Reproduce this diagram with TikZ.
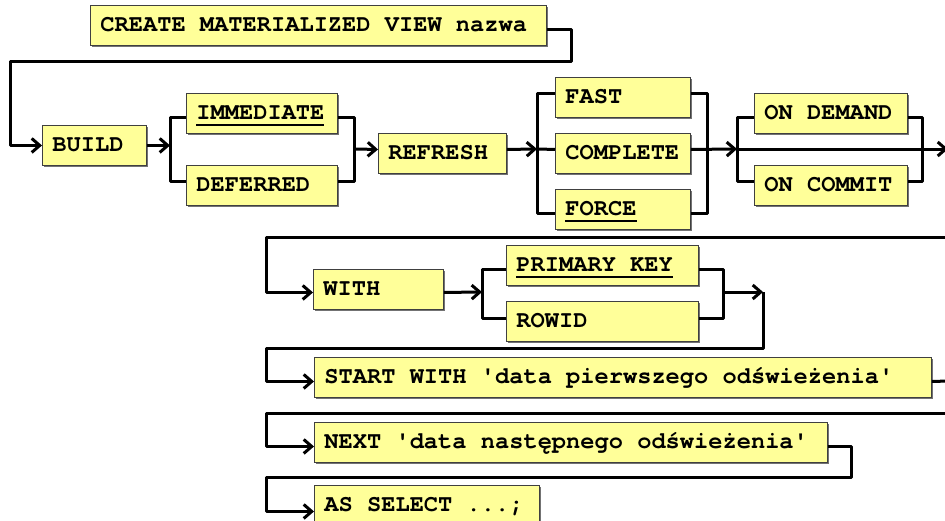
\documentclass[tikz,border=0pt]{standalone}
\usepackage{fontspec}
\newfontfamily\codefont{TeX Gyre Cursor}
\usetikzlibrary{arrows.meta,shadows}
\definecolor{boxyellow}{HTML}{FFFF99}
\definecolor{boxborder}{HTML}{404040}
\DeclareRobustCommand{\codesetup}{\codefont\fontsize{23.7}{28}\selectfont\bfseries}
\newcommand{\gap}{\hbox to 14.22pt{\hss\textcolor{boxyellow}{\rule{0.4pt}{0.4pt}}\hss}}
\newcommand{\myul}[1]{\setbox0=\hbox{#1}\rlap{\rule[-7pt]{\wd0}{2.5pt}}\box0}
\tikzset{
  kbox/.style={draw=boxborder, line width=0.9pt, fill=boxyellow,
    drop shadow={shadow xshift=1.2pt, shadow yshift=-1.2pt, fill=black!55, opacity=1},
    font=\codesetup,
    inner xsep=10pt, inner ysep=0pt, text height=17pt, text depth=5pt,
    minimum height=40pt, anchor=north west, align=left},
  conn/.style={line width=3pt, line join=round, black},
  arr/.style={conn, -{Straight Barb[length=8pt,width=14pt]}}
}
\begin{document}
\begin{tikzpicture}[x=1pt,y=-1pt]
\useasboundingbox (0,0) rectangle (945,520);
% nodes
\node[kbox, text width=436pt] (create) at (90,5) {CREATE\gap MATERIALIZED\gap VIEW\gap nazwa};
\node[kbox, text width=84pt] (build) at (42,125) {BUILD};
\node[kbox, text width=131pt] (immediate) at (186,93) {\myul{IMMEDIATE}};
\node[kbox, text width=131pt] (deferred) at (186,165) {DEFERRED};
\node[kbox, text width=108pt] (refresh) at (378,133) {REFRESH};
\node[kbox, text width=115pt] (fast) at (555,77) {FAST};
\node[kbox, text width=115pt] (complete) at (555,133) {COMPLETE};
\node[kbox, text width=115pt] (force) at (555,189) {\myul{FORCE}};
\node[kbox, text width=133pt] (ondemand) at (754,93) {ON\gap DEMAND};
\node[kbox, text width=133pt] (oncommit) at (754,165) {ON\gap COMMIT};
\node[kbox, text width=110pt] (with) at (313,269) {WITH};
\node[kbox, text width=172pt] (primary) at (506,245) {\myul{PRIMARY\gap KEY}};
\node[kbox, text width=172pt] (rowid) at (506,301) {ROWID};
\node[kbox, text width=597pt] (startwith) at (314,357) {START\gap WITH\gap 'data\gap pierwszego\gap odświeżenia'};
\node[kbox, text width=493pt] (next) at (314,422) {NEXT\gap 'data\gap następnego\gap odświeżenia'};
\node[kbox, text width=205pt] (asselect) at (314,485) {AS\gap SELECT\gap ...;};
% junction and bend coordinates
\coordinate (c1) at (571,61);
\coordinate (c2) at (10,61);
\coordinate (j1) at (170,149);
\coordinate (j2) at (354,149);
\coordinate (j3) at (537,149);
\coordinate (j4) at (707,149);
\coordinate (j5) at (737,149);
\coordinate (j6) at (922,149);
\coordinate (e1) at (948,149);
\coordinate (e2) at (950,237);
\coordinate (c3) at (266,237);
\coordinate (j7) at (482,292);
\coordinate (j8) at (723,292);
\coordinate (c4) at (763,292);
\coordinate (c5) at (266,348);
\coordinate (e3) at (950,381);
\coordinate (e4) at (950,413);
\coordinate (c6) at (266,413);
\coordinate (c7) at (851,477);
\coordinate (c8) at (266,477);
% connectors
\draw[arr] ([yshift=-4pt]create.east) -| (c1) -- (c2) |- (build.west);
\draw[arr] (build.east) -- (build.east -| j1);
\draw[conn] ([yshift=-4pt]immediate.west) -| (j1) |- ([yshift=4pt]deferred.west);
\draw[conn] ([yshift=-4pt]immediate.east) -| (j2) |- ([yshift=4pt]deferred.east);
\draw[arr] (j2) -- ([yshift=4pt]refresh.west);
\draw[arr] ([yshift=4pt]refresh.east) -- (j3);
\draw[conn] ([yshift=4pt]fast.west) -| (j3) |- ([yshift=-4pt]force.west);
\draw[conn] (j3) -- ([yshift=4pt]complete.west);
\draw[conn] ([yshift=4pt]fast.east) -| (j4) |- ([yshift=-4pt]force.east);
\draw[arr] ([yshift=4pt]complete.east) -- (j5);
\draw[conn] ([yshift=-4pt]ondemand.west) -| (j5) |- ([yshift=4pt]oncommit.west);
\draw[conn] ([yshift=-4pt]ondemand.east) -| (j6) |- ([yshift=4pt]oncommit.east);
\draw[arr] (j5) -- (e1);
\draw[arr] (e2) -- (c3) |- ([yshift=-3pt]with.west);
\draw[arr] ([yshift=-3pt]with.east) -- (j7);
\draw[conn] ([yshift=-4pt]primary.west) -| (j7) |- ([yshift=3pt]rowid.west);
\draw[conn] ([yshift=-4pt]primary.east) -| (j8) |- ([yshift=3pt]rowid.east);
\draw[arr] (j8) -- (c4);
\draw[arr] (c4) |- (c5) |- ([yshift=-4pt]startwith.west);
\draw[conn] ([yshift=-4pt]startwith.east) -- (e3);
\draw[arr] (e4) -- (c6) |- ([yshift=-4pt]next.west);
\draw[arr] ([yshift=-4pt]next.east) -| (c7) -- (c8) |- ([yshift=-6pt]asselect.west);
\end{tikzpicture}
\end{document}
